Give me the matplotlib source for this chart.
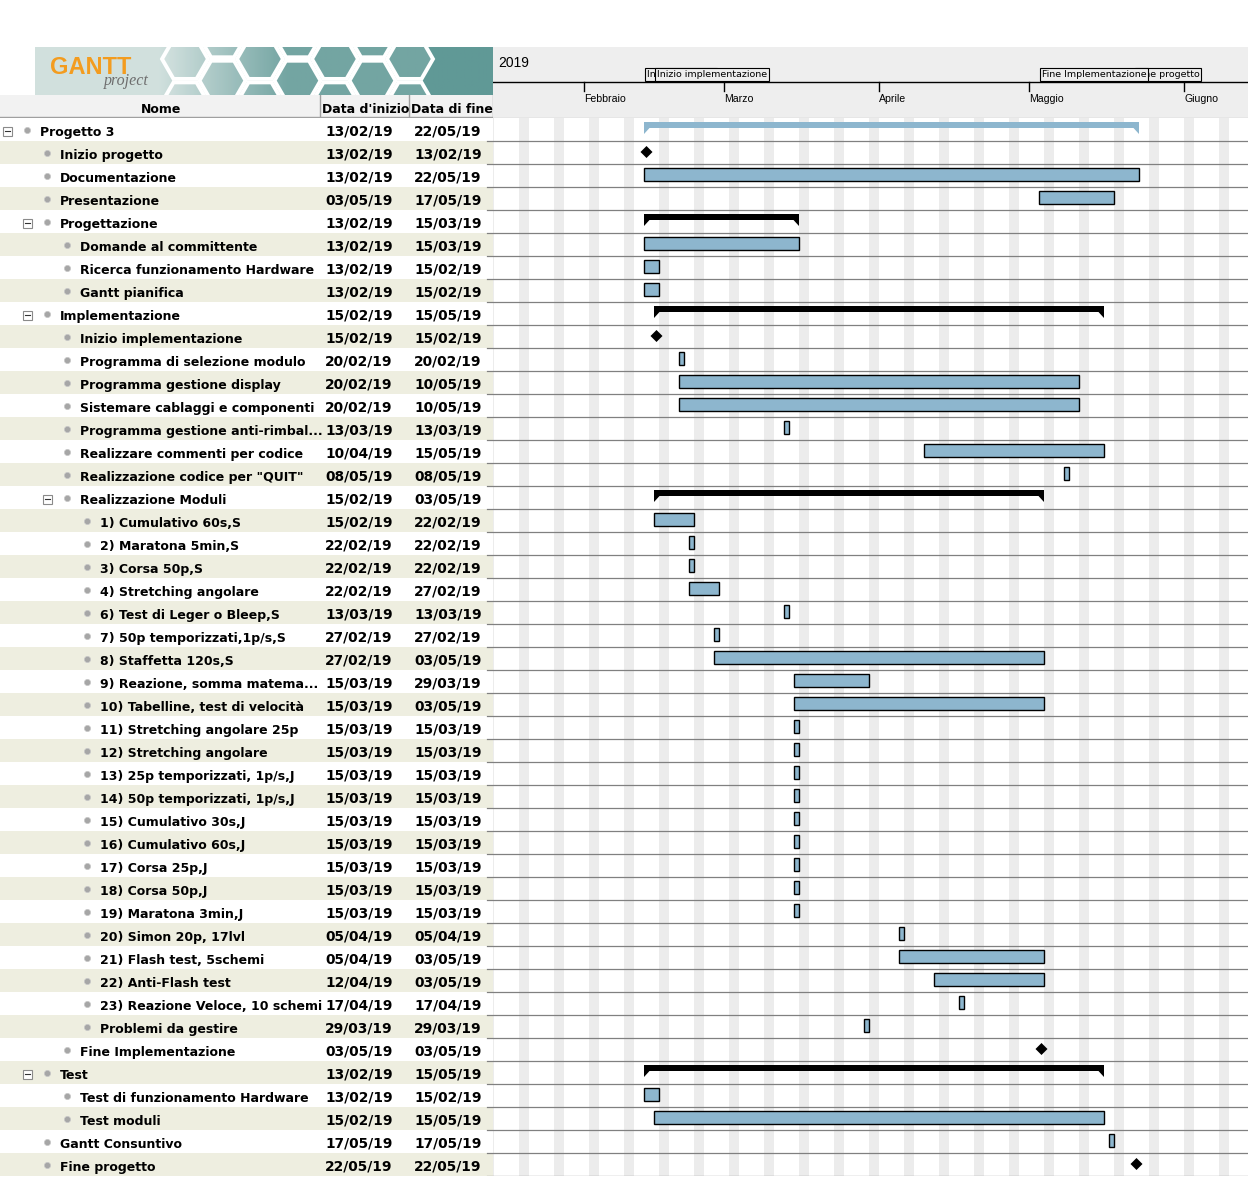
import numpy as np
import matplotlib
matplotlib.use("Agg")
import matplotlib.pyplot as plt
import matplotlib.dates as mdates
from matplotlib.patches import Rectangle, Polygon, RegularPolygon
from datetime import datetime

plt.rcParams['font.family'] = ['DejaVu Sans']

# ---------------- data ----------------
names = [
    "Progetto 3", "Inizio progetto", "Documentazione", "Presentazione",
    "Progettazione", "Domande al committente", "Ricerca funzionamento Hardware",
    "Gantt pianifica", "Implementazione", "Inizio implementazione",
    "Programma di selezione modulo", "Programma gestione display",
    "Sistemare cablaggi e componenti", "Programma gestione anti-rimbal...",
    "Realizzare commenti per codice", "Realizzazione codice per \"QUIT\"",
    "Realizzazione Moduli", "1) Cumulativo 60s,S", "2) Maratona 5min,S",
    "3) Corsa 50p,S", "4) Stretching angolare", "6) Test di Leger o Bleep,S",
    "7) 50p temporizzati,1p/s,S", "8) Staffetta 120s,S",
    "9) Reazione, somma matema...", "10) Tabelline, test di velocità",
    "11) Stretching angolare 25p", "12) Stretching angolare",
    "13) 25p temporizzati, 1p/s,J", "14) 50p temporizzati, 1p/s,J",
    "15) Cumulativo 30s,J", "16) Cumulativo 60s,J", "17) Corsa 25p,J",
    "18) Corsa 50p,J", "19) Maratona 3min,J", "20) Simon 20p, 17lvl",
    "21) Flash test, 5schemi", "22) Anti-Flash test",
    "23) Reazione Veloce, 10 schemi", "Problemi da gestire",
    "Fine Implementazione", "Test", "Test di funzionamento Hardware",
    "Test moduli", "Gantt Consuntivo", "Fine progetto",
]
start_dates = [
    "13/02/19", "13/02/19", "13/02/19", "03/05/19",
    "13/02/19", "13/02/19", "13/02/19",
    "13/02/19", "15/02/19", "15/02/19",
    "20/02/19", "20/02/19",
    "20/02/19", "13/03/19",
    "10/04/19", "08/05/19",
    "15/02/19", "15/02/19", "22/02/19",
    "22/02/19", "22/02/19", "13/03/19",
    "27/02/19", "27/02/19",
    "15/03/19", "15/03/19",
    "15/03/19", "15/03/19",
    "15/03/19", "15/03/19",
    "15/03/19", "15/03/19", "15/03/19",
    "15/03/19", "15/03/19", "05/04/19",
    "05/04/19", "12/04/19",
    "17/04/19", "29/03/19",
    "03/05/19", "13/02/19", "13/02/19",
    "15/02/19", "17/05/19", "22/05/19",
]
end_dates = [
    "22/05/19", "13/02/19", "22/05/19", "17/05/19",
    "15/03/19", "15/03/19", "15/02/19",
    "15/02/19", "15/05/19", "15/02/19",
    "20/02/19", "10/05/19",
    "10/05/19", "13/03/19",
    "15/05/19", "08/05/19",
    "03/05/19", "22/02/19", "22/02/19",
    "22/02/19", "27/02/19", "13/03/19",
    "27/02/19", "03/05/19",
    "29/03/19", "03/05/19",
    "15/03/19", "15/03/19",
    "15/03/19", "15/03/19",
    "15/03/19", "15/03/19", "15/03/19",
    "15/03/19", "15/03/19", "05/04/19",
    "03/05/19", "03/05/19",
    "17/04/19", "29/03/19",
    "03/05/19", "15/05/19", "15/02/19",
    "15/05/19", "17/05/19", "22/05/19",
]
levels = [0, 1, 1, 1, 1, 2, 2, 2, 1, 2, 2, 2, 2, 2, 2, 2, 2,
          3, 3, 3, 3, 3, 3, 3, 3, 3, 3, 3, 3, 3, 3, 3, 3, 3, 3, 3, 3, 3, 3, 3,
          2, 1, 2, 2, 1, 1]
kinds = (["project", "milestone", "task", "task", "summary", "task", "task", "task",
          "summary", "milestone", "task", "task", "task", "task", "task", "task",
          "summary"] + ["task"] * 23 +
         ["milestone", "summary", "task", "task", "task", "milestone"])

months = ["Febbraio", "Marzo", "Aprile", "Maggio", "Giugno"]
month_starts = ["01/02/19", "01/03/19", "01/04/19", "01/05/19", "01/06/19"]
year_label = "2019"
col_headers = ["Nome", "Data d'inizio", "Data di fine"]
label_layers = [3, 4, 6, 5]   # stacking of milestone captions in the header

# ---------------- layout helpers ----------------
W, H, DPI = 1248, 1177, 100
ROW = 23
TOP = 118
SPLIT = 493
n = len(names)

fig = plt.figure(figsize=(W / DPI, H / DPI), dpi=DPI, facecolor="white")


def px_axes(x0, y0, x1, y1, z=0):
    ax = fig.add_axes([x0 / W, 1 - y1 / H, (x1 - x0) / W, (y1 - y0) / H])
    ax.set_zorder(z)
    return ax


def d2n(s):
    return mdates.date2num(datetime.strptime(s, "%d/%m/%y"))


PX_PER_DAY = 5.0
feb1 = d2n(month_starts[0])
x_left = feb1 - (584 - SPLIT) / PX_PER_DAY
x_right = feb1 + (W - 584) / PX_PER_DAY

BLUE = "#8DB6CE"
BEIGE = "#EEEEE0"
STRIPE = "#ECECEC"
HDR = "#EEEEEE"
TFONT = ["DejaVu Sans"]

# ---------------- gantt area ----------------
gx = px_axes(SPLIT, TOP, W, TOP + n * ROW, z=1)
gx.set_xlim(x_left, x_right)
gx.set_ylim(n, 0)
gx.set_axis_off()

for d in range(int(np.floor(x_left)), int(np.ceil(x_right)) + 1):
    if mdates.num2date(d).weekday() >= 5:
        gx.axvspan(d, d + 1, color=STRIPE, lw=0, zorder=0)

for i in range(1, n + 1):
    gx.axhline(i, color="#808080", lw=0.9, zorder=1)

f = 1.0 / ROW
for i, (s, e, k) in enumerate(zip(start_dates, end_dates, kinds)):
    xs = d2n(s)
    xe = d2n(e) + 1
    if k == "task":
        gx.add_patch(Rectangle((xs, i + 4 * f), xe - xs, 13 * f, facecolor=BLUE,
                               edgecolor="black", lw=1.0, zorder=3))
    elif k in ("summary", "project"):
        col = BLUE if k == "project" else "black"
        top, bb, tb, tw = i + 4 * f, i + 10 * f, i + 16 * f, 1.1
        pts = [(xs, top), (xe, top), (xe, tb), (xe - tw, bb), (xs + tw, bb), (xs, tb)]
        gx.add_patch(Polygon(pts, closed=True, facecolor=col, edgecolor="none", zorder=3))
    else:
        cx, cy = xs + 0.5, i + 11 * f
        hw, hh = 1.2, 6 * f
        gx.add_patch(Polygon([(cx - hw, cy), (cx, cy - hh), (cx + hw, cy), (cx, cy + hh)],
                             closed=True, facecolor="black", edgecolor="none", zorder=3))

# ---------------- timeline header ----------------
hx = px_axes(SPLIT, 47, W, TOP, z=1)
hx.set_xlim(x_left, x_right)
hx.set_ylim(TOP - 47, 0)
hx.set_axis_off()
hx.add_patch(Rectangle((x_left, 0), x_right - x_left, TOP - 47, facecolor=HDR,
                       edgecolor="none", zorder=0))
hx.plot([x_left, x_right], [35, 35], color="black", lw=1.0, zorder=2)
hx.plot([x_left, x_right], [TOP - 47 - 0.5, TOP - 47 - 0.5], color="#C8C8C8", lw=1.0, zorder=2)
hx.text(x_left + 1.0, 20, year_label, fontsize=10, family=["Liberation Sans"],
        va="baseline", ha="left", zorder=3)
for m, ms in zip(months, month_starts):
    mx = d2n(ms)
    hx.plot([mx, mx], [35, 44], color="black", lw=1.0, zorder=2)
    hx.text(mx, 55, m, fontsize=7.6, family=["Liberation Sans"], va="baseline",
            ha="left", zorder=3)

ms_idx = [i for i, k in enumerate(kinds) if k == "milestone"]
for layer, i in zip(label_layers, ms_idx):
    xs = d2n(start_dates[i])
    hx.text(xs + 0.5, 30, names[i], fontsize=6.8, family=["DejaVu Sans"],
            va="baseline", ha="left", zorder=layer,
            bbox=dict(boxstyle="square,pad=0.2", facecolor=HDR, edgecolor="black", lw=0.8))

# ---------------- table ----------------
tx = px_axes(0, TOP, SPLIT, TOP + n * ROW, z=2)
tx.set_xlim(0, SPLIT)
tx.set_ylim(n, 0)
tx.set_axis_off()

for i in range(n):
    if i % 2 == 1:
        tx.add_patch(Rectangle((0, i), SPLIT, 1, facecolor=BEIGE, edgecolor="none", zorder=0))
    tx.plot([SPLIT - 6, SPLIT], [i + 1, i + 1], color="#808080", lw=0.9, zorder=1)

group_kinds = ("summary", "project")
bx, by = [], []
for i, (nm, s, e, lv, k) in enumerate(zip(names, start_dates, end_dates, levels, kinds)):
    y_base = i + 17.7 * f
    tx.text(40 + 20 * lv, y_base, nm, fontsize=9.0, fontweight="bold", family=TFONT,
            va="baseline", ha="left", zorder=3)
    tx.text(325, y_base, s, fontsize=9.9, fontweight="bold", family=TFONT,
            va="baseline", ha="left", zorder=3)
    tx.text(414, y_base, e, fontsize=9.9, fontweight="bold", family=TFONT,
            va="baseline", ha="left", zorder=3)
    bx.append(27 + 20 * lv)
    by.append(i + 11.5 * f)
    if k in group_kinds:
        cx, cy = 7.5 + 20 * lv, i + 13 * f
        tx.add_patch(Rectangle((cx - 4.5, cy - 4.5 * f), 9, 9 * f, facecolor="white",
                               edgecolor="#8A8A8A", lw=0.8, zorder=3))
        tx.plot([cx - 2.5, cx + 2.5], [cy, cy], color="#333333", lw=0.8, zorder=4)

tx.scatter(bx, by, s=20, color="#A6A6A6", edgecolors="#C8C8C8", linewidths=0.5, zorder=3)

# table header
th = px_axes(0, 95, SPLIT, TOP, z=2)
th.set_xlim(0, SPLIT)
th.set_ylim(TOP - 95, 0)
th.set_axis_off()
th.add_patch(Rectangle((0, 0), SPLIT, TOP - 95, facecolor="#F2F2F2", edgecolor="none"))
th.plot([0, SPLIT], [TOP - 95 - 0.6, TOP - 95 - 0.6], color="#A0A0A0", lw=1.0)
col_edges = [0, 320, 409, SPLIT]
for j, hdr in enumerate(col_headers):
    th.plot([col_edges[j + 1] - 0.5] * 2, [0, TOP - 95], color="#A0A0A0", lw=1.0)
    th.text((col_edges[j] + col_edges[j + 1]) / 2 + 1, 17.7, hdr, fontsize=9.0,
            fontweight="bold", family=TFONT, va="baseline", ha="center", clip_on=True)

# ---------------- logo ----------------
LW_ = SPLIT - 35
lx = px_axes(35, 47, SPLIT, 95, z=2)
lx.set_xlim(0, LW_)
lx.set_ylim(48, 0)
lx.set_axis_off()
grad = np.linspace(0, 1, 460)
grad = np.clip((grad - 0.27) / 0.28, 0, 1)
c0 = np.array([0.82, 0.88, 0.87])
c1 = np.array([0.38, 0.60, 0.59])
img = c0[None, None, :] * (1 - grad[None, :, None]) + c1[None, None, :] * grad[None, :, None]
img = np.repeat(img, 2, axis=0)
lx.imshow(img, extent=(0, LW_, 48, 0), aspect="auto", zorder=0)
r_hex = 25
for col_i, hxp in enumerate(np.arange(150, 380, 1.5 * r_hex)):
    ys = [12, 12 + np.sqrt(3) * r_hex] if col_i % 2 == 0 else [12 - np.sqrt(3) * r_hex / 2,
                                                               12 + np.sqrt(3) * r_hex / 2]
    for hyp in ys:
        lx.add_patch(RegularPolygon((hxp, hyp), numVertices=6, radius=r_hex - 2,
                                    orientation=np.pi / 6, facecolor=(1, 1, 1, 0.12),
                                    edgecolor="white", lw=2.8, zorder=1))
lx.text(15, 27, "GANTT", fontsize=17, fontweight="bold", color="#F39C1F",
        family=["Liberation Sans"], va="baseline", ha="left", zorder=3)
lx.text(69, 38, "project", fontsize=11.5, style="italic", color="#6E6E6E",
        family=["Liberation Serif"], va="baseline", ha="left", zorder=3)

fig.savefig("out.png", dpi=DPI, facecolor="white")
